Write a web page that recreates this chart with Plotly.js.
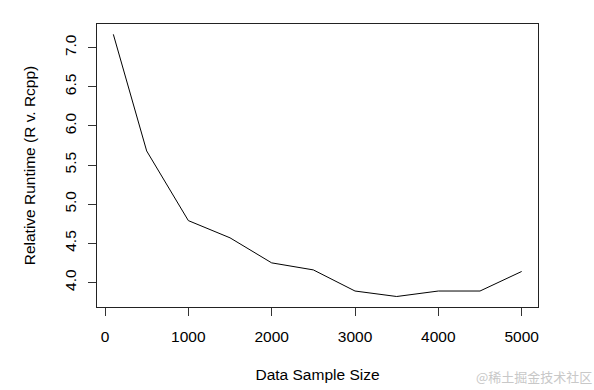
<!DOCTYPE html>
<html>
<head>
<meta charset="utf-8">
<script src="https://cdn.plot.ly/plotly-3.0.1.min.js"></script>
<style>
html,body{margin:0;padding:0;background:#fff;}
#chart{width:594px;height:390px;}
</style>
</head>
<body>
<div id="chart"></div>
<script>
// Data
var sampleSize = [100, 500, 1000, 1500, 2000, 2500, 3000, 3500, 4000, 4500, 5000];
var relRuntime = [7.17, 5.68, 4.79, 4.57, 4.25, 4.16, 3.89, 3.82, 3.89, 3.89, 4.14];
var xTickVals = [0, 1000, 2000, 3000, 4000, 5000];
var xTickText = ["0", "1000", "2000", "3000", "4000", "5000"];
var yTickVals = [4.0, 4.5, 5.0, 5.5, 6.0, 6.5, 7.0];
var yTickText = ["4.0", "4.5", "5.0", "5.5", "6.0", "6.5", "7.0"];

var font = {family: "Liberation Sans, Arial, sans-serif", size: 15.5, color: "#000"};

var trace = {
  x: sampleSize,
  y: relRuntime,
  type: "scatter",
  mode: "lines",
  line: {color: "#000", width: 1},
  hoverinfo: "skip"
};

var layout = {
  width: 594,
  height: 390,
  margin: {l: 97, r: 56, t: 24, b: 83, pad: 0},
  paper_bgcolor: "#fff",
  plot_bgcolor: "#fff",
  showlegend: false,
  font: font,
  xaxis: {
    range: [-96, 5196],
    tickvals: xTickVals,
    ticktext: xTickText,
    ticks: "outside",
    ticklen: 8,
    tickwidth: 1,
    tickcolor: "#333",
    showgrid: false,
    zeroline: false,
    showline: true,
    mirror: true,
    linecolor: "#222",
    linewidth: 1,
    tickfont: font,
    ticklabelstandoff: 7,
    title: {text: "Data Sample Size", font: font, standoff: 25}
  },
  yaxis: {
    range: [3.686, 7.302],
    tickvals: yTickVals,
    ticktext: yTickText,
    tickangle: -90,
    ticks: "outside",
    ticklen: 8,
    tickwidth: 1,
    tickcolor: "#333",
    showgrid: false,
    zeroline: false,
    showline: true,
    mirror: true,
    linecolor: "#222",
    linewidth: 1,
    tickfont: font,
    ticklabelstandoff: 6,
    title: {text: "Relative Runtime (R v. Rcpp)", font: font, standoff: 22}
  },
  annotations: [{
    text: "@稀土掘金技术社区",
    xref: "paper", yref: "paper",
    x: 1.127, y: -0.245,
    xanchor: "right", yanchor: "middle",
    showarrow: false,
    font: {family: "Noto Sans CJK SC, sans-serif", size: 13, color: "#c8c8c8"}
  }]
};

Plotly.newPlot("chart", [trace], layout, {staticPlot: true, displayModeBar: false});
</script>
</body>
</html>
